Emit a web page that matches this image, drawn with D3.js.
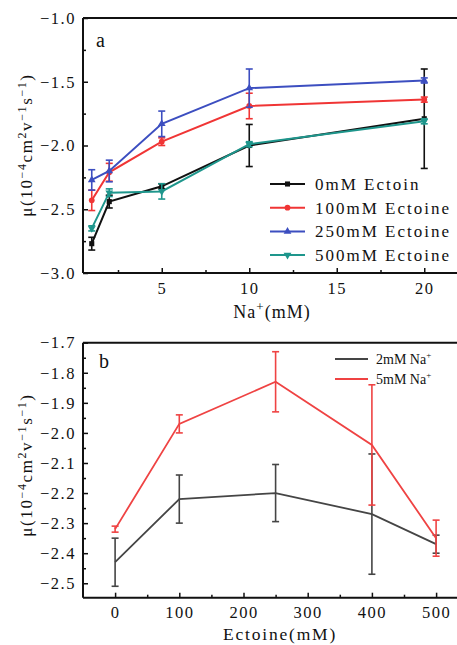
<!DOCTYPE html>
<html><head><meta charset="utf-8">
<script src="https://cdn.jsdelivr.net/npm/d3@7"></script>
<style>
html,body{margin:0;padding:0;background:#fff;overflow:hidden}
text{font-family:"Liberation Serif","Times New Roman",serif;fill:#111}
</style></head>
<body><svg id="c" width="457" height="645"></svg>
<script>
// ---- Panel a data ----
const naX = [1, 2, 5, 10, 20];
const seriesNames = ["0mM Ectoin", "100mM Ectoine", "250mM Ectoine", "500mM Ectoine"];
const ect0   = [-2.77, -2.44, -2.32, -2.00, -1.79];
const err0   = [0.05, 0.05, 0.02, 0.165, 0.39];
const ect100 = [-2.43, -2.21, -1.97, -1.69, -1.64];
const err100 = [0.08, 0.07, 0.03, 0.10, 0.02];
const ect250 = [-2.27, -2.20, -1.83, -1.55, -1.49];
const err250 = [0.08, 0.085, 0.10, 0.15, 0.02];
const ect500 = [-2.65, -2.37, -2.36, -1.99, -1.81];
const err500 = [0.02, 0.03, 0.06, 0.02, 0.02];
const aXTicks = [5, 10, 15, 20];
const aYTicks = [-1.0, -1.5, -2.0, -2.5, -3.0];

// ---- Panel b data ----
const ectX = [0, 100, 250, 400, 500];
const bNames = ["2mM Na", "5mM Na"];
const na2    = [-2.43, -2.22, -2.20, -2.27, -2.37];
const errNa2 = [0.08, 0.08, 0.095, 0.20, 0.03];
const na5    = [-2.32, -1.97, -1.83, -2.04, -2.35];
const errNa5 = [0.01, 0.03, 0.10, 0.20, 0.06];
const bXTicks = [0, 100, 200, 300, 400, 500];
const bYTicks = [-1.7, -1.8, -1.9, -2.0, -2.1, -2.2, -2.3, -2.4, -2.5];

const svg = d3.select("#c");
const fmt1 = d3.format(".1f");

function yTitle(g, x, y) {
  const t = g.append("text").attr("transform", `translate(${x},${y}) rotate(-90)`)
    .attr("text-anchor", "middle").attr("font-size", 17).attr("letter-spacing", "1.6px");
  t.append("tspan").text("μ(10");
  t.append("tspan").attr("dy", -6).attr("font-size", 12).text("−4");
  t.append("tspan").attr("dy", 6).text("cm");
  t.append("tspan").attr("dy", -6).attr("font-size", 12).text("2");
  t.append("tspan").attr("dy", 6).text("v");
  t.append("tspan").attr("dy", -6).attr("font-size", 12).text("−1");
  t.append("tspan").attr("dy", 6).text("s");
  t.append("tspan").attr("dy", -6).attr("font-size", 12).text("−1");
  t.append("tspan").attr("dy", 6).text(")");
}

// ================= Panel a =================
{
  const L = 83, R = 459.25, T = 18, B = 273;
  const x = d3.scaleLinear().domain([0.5, 22]).range([L, R]);
  const y = d3.scaleLinear().domain([-3.0, -1.0]).range([B, T]);
  const g = svg.append("g");

  g.append("line").attr("x1", L).attr("x2", 470).attr("y1", T).attr("y2", T).attr("stroke", "#111").attr("stroke-width", 2);
  const xAxis = d3.axisBottom(x).tickValues(aXTicks).tickSize(-5).tickPadding(9).tickFormat(d3.format("d"));
  const xa = g.append("g").attr("transform", `translate(0,${B})`).call(xAxis);
  xa.select(".domain").attr("d", `M${L},0H470`).attr("stroke-width", 2).attr("stroke", "#111");
  xa.selectAll("line").attr("stroke-width", 1.5).attr("stroke", "#111");
  xa.selectAll("text").attr("font-size", 16.5).attr("letter-spacing", "1.5px").attr("fill", "#111").attr("font-family", "Liberation Serif");
  const xm = d3.axisBottom(x).tickValues([2.5, 7.5, 12.5, 17.5]).tickSize(-3).tickFormat("");
  const xma = g.append("g").attr("transform", `translate(0,${B})`).call(xm);
  xma.select(".domain").remove(); xma.selectAll("line").attr("stroke-width", 1.5).attr("stroke", "#111");

  const yAxis = d3.axisLeft(y).tickValues(aYTicks).tickSize(-5).tickPadding(7).tickFormat(fmt1);
  const ya = g.append("g").attr("transform", `translate(${L},0)`).call(yAxis);
  ya.select(".domain").attr("d", `M0,${T}V${B}`).attr("stroke-width", 2).attr("stroke", "#111");
  ya.selectAll("line").attr("stroke-width", 1.5).attr("stroke", "#111");
  ya.selectAll("text").attr("font-size", 16.5).attr("letter-spacing", "1.5px").attr("fill", "#111").attr("font-family", "Liberation Serif");
  const ym = d3.axisLeft(y).tickValues([-1.25, -1.75, -2.25, -2.75]).tickSize(-3).tickFormat("");
  const yma = g.append("g").attr("transform", `translate(${L},0)`).call(ym);
  yma.select(".domain").remove(); yma.selectAll("line").attr("stroke-width", 1.5).attr("stroke", "#111");

  const series = [
    {v: ect0, e: err0, c: "#111111", m: d3.symbolSquare},
    {v: ect100, e: err100, c: "#f03535", m: d3.symbolCircle},
    {v: ect250, e: err250, c: "#3c4ec0", m: d3.symbolTriangle},
    {v: ect500, e: err500, c: "#1e968c", m: "down"}
  ];
  const line = d3.line().x(d => x(d[0])).y(d => y(d[1]));
  const sym = (m) => m === "down" ? d3.symbol(d3.symbolTriangle, 26)() : d3.symbol(m, 26)();
  series.forEach(s => {
    const pts = naX.map((xv, i) => [xv, s.v[i], s.e[i]]);
    const sg = g.append("g");
    pts.forEach(p => {
      sg.append("line").attr("x1", x(p[0])).attr("x2", x(p[0])).attr("y1", y(p[1] - p[2])).attr("y2", y(p[1] + p[2])).attr("stroke", s.c).attr("stroke-width", 1.6);
      [p[1] - p[2], p[1] + p[2]].forEach(v => sg.append("line").attr("x1", x(p[0]) - 3.5).attr("x2", x(p[0]) + 3.5).attr("y1", y(v)).attr("y2", y(v)).attr("stroke", s.c).attr("stroke-width", 1.6));
    });
    sg.append("path").datum(pts).attr("d", line).attr("fill", "none").attr("stroke", s.c).attr("stroke-width", 2);
    pts.forEach(p => sg.append("path").attr("d", sym(s.m)).attr("fill", s.c)
      .attr("transform", `translate(${x(p[0])},${y(p[1])})${s.m === "down" ? " rotate(180)" : ""}`));
  });

  series.forEach((s, i) => {
    const ly = 184 + i * 23.7;
    g.append("line").attr("x1", 270).attr("x2", 305).attr("y1", ly).attr("y2", ly).attr("stroke", s.c).attr("stroke-width", 2);
    g.append("path").attr("d", sym(s.m)).attr("fill", s.c).attr("transform", `translate(287.5,${ly})${s.m === "down" ? " rotate(180)" : ""}`);
    g.append("text").attr("x", 315).attr("y", ly + 6).attr("font-size", 17).attr("letter-spacing", "2px").text(seriesNames[i]);
  });

  g.append("text").attr("x", 96).attr("y", 47).attr("font-size", 20).text("a");
  yTitle(g, 32, 145);
  const xt = g.append("text").attr("x", 272).attr("y", 318).attr("text-anchor", "middle").attr("font-size", 18).attr("letter-spacing", "1px");
  xt.append("tspan").text("Na");
  xt.append("tspan").attr("dy", -7).attr("font-size", 13).text("+");
  xt.append("tspan").attr("dy", 7).text("(mM)");
}

// ================= Panel b =================
{
  const L = 83, R = 468.2, T = 342.7, B = 597.7;
  const x = d3.scaleLinear().domain([-50, 550]).range([L, R]);
  const y = d3.scaleLinear().domain([-2.548, -1.7]).range([B, T]);
  const g = svg.append("g");

  g.append("line").attr("x1", L).attr("x2", 470).attr("y1", T).attr("y2", T).attr("stroke", "#111").attr("stroke-width", 2);
  const xAxis = d3.axisBottom(x).tickValues(bXTicks).tickSize(-5).tickPadding(8.5).tickFormat(d3.format("d"));
  const xa = g.append("g").attr("transform", `translate(0,${B})`).call(xAxis);
  xa.select(".domain").attr("d", `M${L},0H470`).attr("stroke-width", 2).attr("stroke", "#111");
  xa.selectAll("line").attr("stroke-width", 1.5).attr("stroke", "#111");
  xa.selectAll("text").attr("font-size", 16.5).attr("letter-spacing", "1.5px").attr("fill", "#111").attr("font-family", "Liberation Serif");
  const xm = d3.axisBottom(x).tickValues([50, 150, 250, 350, 450]).tickSize(-3).tickFormat("");
  const xma = g.append("g").attr("transform", `translate(0,${B})`).call(xm);
  xma.select(".domain").remove(); xma.selectAll("line").attr("stroke-width", 1.5).attr("stroke", "#111");

  const yAxis = d3.axisLeft(y).tickValues(bYTicks).tickSize(-5).tickPadding(7).tickFormat(fmt1);
  const ya = g.append("g").attr("transform", `translate(${L},0)`).call(yAxis);
  ya.select(".domain").attr("d", `M0,${T}V${B}`).attr("stroke-width", 2).attr("stroke", "#111");
  ya.selectAll("line").attr("stroke-width", 1.5).attr("stroke", "#111");
  ya.selectAll("text").attr("font-size", 16.5).attr("letter-spacing", "1.5px").attr("fill", "#111").attr("font-family", "Liberation Serif");
  const ym = d3.axisLeft(y).tickValues([-1.75, -1.85, -1.95, -2.05, -2.15, -2.25, -2.35, -2.45]).tickSize(-3).tickFormat("");
  const yma = g.append("g").attr("transform", `translate(${L},0)`).call(ym);
  yma.select(".domain").remove(); yma.selectAll("line").attr("stroke-width", 1.5).attr("stroke", "#111");

  const series = [
    {v: na2, e: errNa2, c: "#454545"},
    {v: na5, e: errNa5, c: "#ef4343"}
  ];
  const line = d3.line().x(d => x(d[0])).y(d => y(d[1]));
  series.forEach(s => {
    const pts = ectX.map((xv, i) => [xv, s.v[i], s.e[i]]);
    const sg = g.append("g");
    sg.append("path").datum(pts).attr("d", line).attr("fill", "none").attr("stroke", s.c).attr("stroke-width", 1.8);
    pts.forEach(p => {
      sg.append("line").attr("x1", x(p[0])).attr("x2", x(p[0])).attr("y1", y(p[1] - p[2])).attr("y2", y(p[1] + p[2])).attr("stroke", s.c).attr("stroke-width", 1.6);
      [p[1] - p[2], p[1] + p[2]].forEach(v => sg.append("line").attr("x1", x(p[0]) - 3.5).attr("x2", x(p[0]) + 3.5).attr("y1", y(v)).attr("y2", y(v)).attr("stroke", s.c).attr("stroke-width", 1.6));
    });
  });

  series.forEach((s, i) => {
    const ly = 359 + i * 20;
    g.append("line").attr("x1", 335).attr("x2", 368).attr("y1", ly).attr("y2", ly).attr("stroke", s.c).attr("stroke-width", 1.8);
    const t = g.append("text").attr("x", 376).attr("y", ly + 5).attr("font-size", 14);
    t.append("tspan").text(bNames[i]);
    t.append("tspan").attr("dy", -6).attr("font-size", 9).text("+");
  });

  g.append("text").attr("x", 99).attr("y", 368).attr("font-size", 20).text("b");
  yTitle(g, 32, 465);
  g.append("text").attr("x", 280).attr("y", 640).attr("text-anchor", "middle").attr("font-size", 17.5).attr("letter-spacing", "1.8px").text("Ectoine(mM)");
}
</script></body></html>
